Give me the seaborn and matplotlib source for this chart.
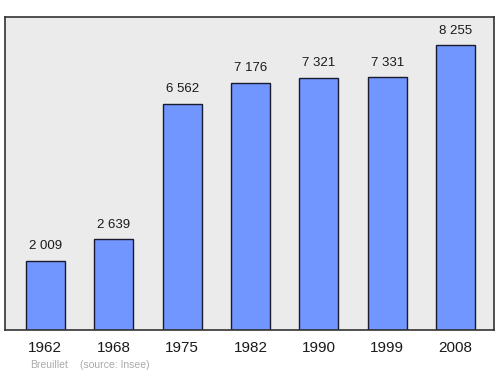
import matplotlib
matplotlib.use("Agg")
import matplotlib.pyplot as plt
import seaborn as sns
import pandas as pd

years = ["1962", "1968", "1975", "1982", "1990", "1999", "2008"]
population = [2009, 2639, 6562, 7176, 7321, 7331, 8255]
labels = ["2 009", "2 639", "6 562", "7 176", "7 321", "7 331", "8 255"]

sns.set_theme(style="white")
plt.rcParams['font.family'] = ['Liberation Sans', 'DejaVu Sans']

df = pd.DataFrame({"year": years, "pop": population})

fig = plt.figure(figsize=(5, 3.74), dpi=100)
ax = fig.add_axes([0.01, 0.1176, 0.978, 0.837])
ax.set_facecolor("#ebebeb")
sns.barplot(data=df, x="year", y="pop", color="#7296ff", saturation=1,
            width=0.57, edgecolor="#1a1a2e", linewidth=1.0, ax=ax)
ax.set_xlim(-0.59, 6.56)
ax.set_ylim(0, max(population) * 1.1)
for i, (v, lab) in enumerate(zip(population, labels)):
    ax.annotate(lab, (i, v), xytext=(0, 6), textcoords="offset points",
                ha="center", va="bottom", fontsize=9.5, color="#1a1a1a")
ax.set_xlabel("")
ax.set_ylabel("")
ax.set_yticks([])
ax.tick_params(axis="x", length=0, pad=8, labelsize=11, labelcolor="#1a1a1a")
for s in ax.spines.values():
    s.set_color("#333333")
    s.set_linewidth(1.2)
fig.text(0.06, 0.025, "Breuillet", fontsize=7.5, color="#aaaaaa", ha="left", va="center")
fig.text(0.16, 0.025, "(source: Insee)", fontsize=7.5, color="#aaaaaa", ha="left", va="center")
fig.savefig("out.png", dpi=100)
